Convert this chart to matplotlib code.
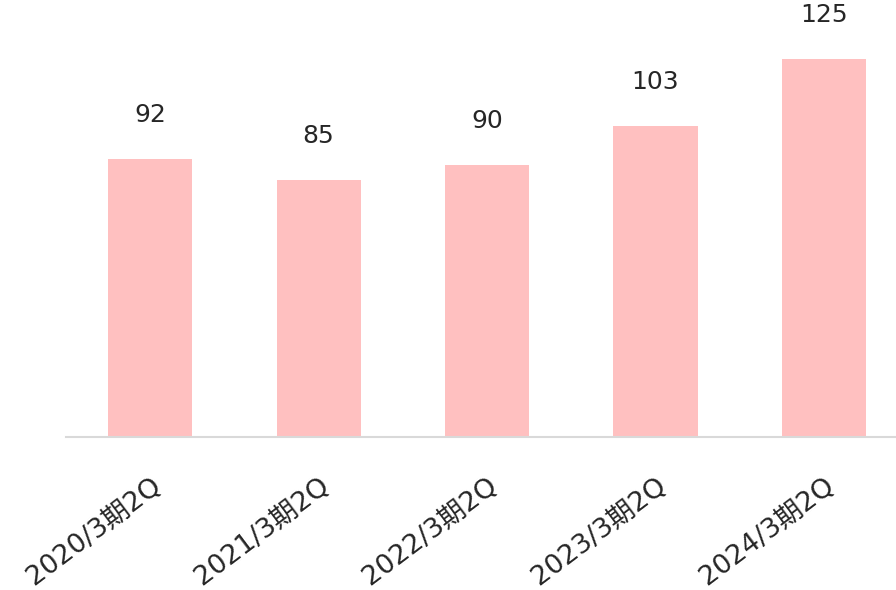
import matplotlib.pyplot as plt

plt.rcParams['font.family'] = ['DejaVu Sans', 'Noto Sans CJK JP']

categories = ['2020/3期2Q', '2021/3期2Q', '2022/3期2Q', '2023/3期2Q', '2024/3期2Q']
values = [92, 85, 90, 103, 125]

fig = plt.figure(figsize=(8.96, 5.9), dpi=100)
# axes runs a little past the right edge, like the original
ax = fig.add_axes([66 / 896, 1 - 437 / 590, 842 / 896, 378 / 590])

x = range(len(categories))
ax.bar(x, values, width=0.5, color='#ffc0c0')
for i, v in zip(x, values):
    ax.annotate(str(v), (i, v), xytext=(0, 23), textcoords='offset points',
                ha='center', va='bottom', fontsize=18, color='#262626')

ax.set_xlim(-0.5, 4.5)
ax.set_ylim(0, 125)
ax.set_xticks(list(x))
ax.set_xticklabels(categories, rotation=37, ha='right', rotation_mode='anchor',
                   fontsize=19.5, color='#262626')
ax.tick_params(axis='x', length=0, pad=26)
ax.set_yticks([])
for s in ['top', 'right', 'left']:
    ax.spines[s].set_visible(False)
ax.spines['bottom'].set_color('#d9d9d9')
ax.spines['bottom'].set_linewidth(1.5)

fig.savefig('out.png', dpi=100)
